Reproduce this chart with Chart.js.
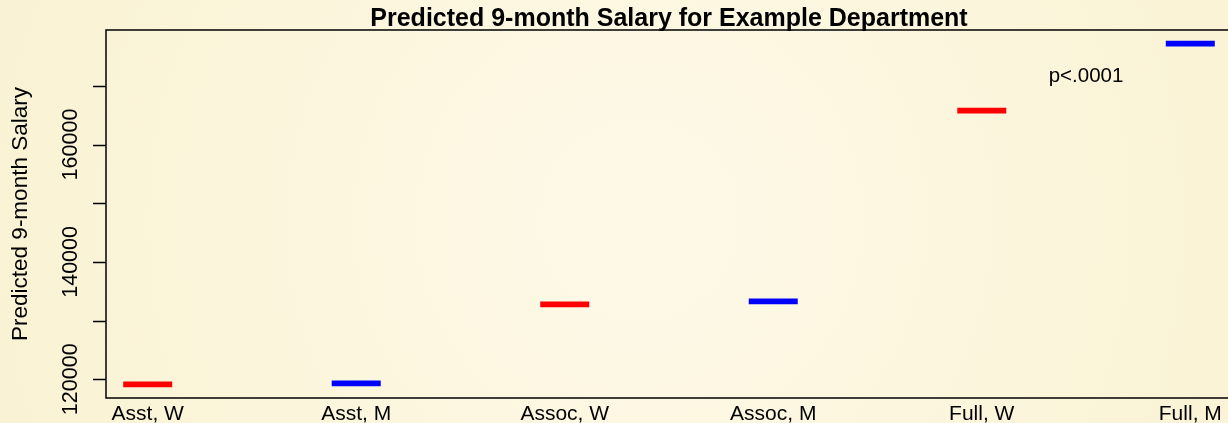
<!DOCTYPE html>
<html>
<head>
<meta charset="utf-8">
<script src="https://cdn.jsdelivr.net/npm/chart.js@4/dist/chart.umd.min.js"></script>
<style>
html,body{margin:0;padding:0;overflow:hidden;width:1228px;height:423px;}
body{background:#FBF5DC;}
#c{display:block;}
</style>
</head>
<body>
<canvas id="c" width="1240" height="423"></canvas>
<script>
// ---- data ----
const categories = ["Asst, W", "Asst, M", "Assoc, W", "Assoc, M", "Full, W", "Full, M"];
const salaries = [119130, 119300, 132750, 133260, 165790, 177190];
const groupColors = ["#FF0000", "#0000FF", "#FF0000", "#0000FF", "#FF0000", "#0000FF"];
const yTicks = [120000, 130000, 140000, 150000, 160000, 170000];
const yTickLabels = ["120000", "", "140000", "", "160000", ""];
const titleText = "Predicted 9-month Salary for Example Department";
const yTitleText = "Predicted 9-month Salary";
const noteText = "p<.0001";
const notePos = {x: 4.5, y: 171700};

// R-style 4% axis padding
const yLo = Math.min(...salaries), yHi = Math.max(...salaries);
const yPad = (yHi - yLo) * 0.04;
const xPad = (categories.length - 1) * 0.04;

const FONT = '"Liberation Sans", Arial, sans-serif';

const bgPlugin = {
  id: 'bg',
  beforeDraw(chart) {
    const ctx = chart.ctx, w = chart.width, h = chart.height;
    ctx.save();
    ctx.fillStyle = '#FBF5DC';
    ctx.fillRect(0, 0, w, h);
    const g = ctx.createRadialGradient(640, 220, 50, 640, 220, 700);
    g.addColorStop(0, 'rgba(255,251,236,0.7)');
    g.addColorStop(1, 'rgba(248,240,205,0.6)');
    ctx.fillStyle = g;
    ctx.fillRect(0, 0, w, h);
    ctx.restore();
  }
};

const axesPlugin = {
  id: 'rAxes',
  afterDraw(chart) {
    const ctx = chart.ctx, a = chart.chartArea;
    const xs = chart.scales.x, ys = chart.scales.y;
    ctx.save();
    ctx.strokeStyle = '#000';
    ctx.lineWidth = 1.5;
    ctx.strokeRect(a.left, a.top, a.right - a.left, a.bottom - a.top);
    // y ticks
    ctx.fillStyle = '#000';
    ctx.font = '21.5px ' + FONT;
    ctx.textAlign = 'center';
    ctx.textBaseline = 'alphabetic';
    yTicks.forEach((v, i) => {
      const py = Math.round(ys.getPixelForValue(v)) + 0.5;
      ctx.beginPath();
      ctx.moveTo(a.left - 13, py);
      ctx.lineTo(a.left, py);
      ctx.stroke();
      if (yTickLabels[i]) {
        ctx.save();
        ctx.translate(a.left - 29, ys.getPixelForValue(v));
        ctx.rotate(-Math.PI / 2);
        ctx.fillText(yTickLabels[i], 0, 0);
        ctx.restore();
      }
    });
    // x labels
    ctx.font = '21px ' + FONT;
    categories.forEach((c, i) => {
      ctx.fillText(c, xs.getPixelForValue(i), a.bottom + 22);
    });
    // y title
    ctx.save();
    ctx.font = '22.5px ' + FONT;
    ctx.translate(27, (a.top + a.bottom) / 2);
    ctx.rotate(-Math.PI / 2);
    ctx.fillText(yTitleText, 0, 0);
    ctx.restore();
    // title
    ctx.font = 'bold 25px ' + FONT;
    ctx.fillText(titleText, (a.left + a.right) / 2, a.top - 4);
    // note
    ctx.font = '20.5px ' + FONT;
    ctx.textBaseline = 'middle';
    ctx.fillText(noteText, xs.getPixelForValue(notePos.x), ys.getPixelForValue(notePos.y));
    ctx.restore();
  }
};

new Chart(document.getElementById('c'), {
  type: 'scatter',
  data: {
    datasets: [{
      data: salaries.map((v, i) => ({x: i, y: v})),
      pointStyle: 'line',
      pointRadius: 24.5,
      pointHoverRadius: 24.5,
      pointBorderWidth: 5.7,
      pointBorderColor: groupColors,
      pointBackgroundColor: groupColors,
      showLine: false
    }]
  },
  plugins: [bgPlugin, axesPlugin],
  options: {
    responsive: false,
    devicePixelRatio: 1,
    animation: false,
    events: [],
    layout: {autoPadding: false, padding: {left: 106, top: 30, right: 8, bottom: 25}},
    plugins: {legend: {display: false}, tooltip: {enabled: false}, title: {display: false}},
    scales: {
      x: {type: 'linear', display: false, min: -xPad, max: categories.length - 1 + xPad},
      y: {type: 'linear', display: false, min: yLo - yPad, max: yHi + yPad}
    }
  }
});
</script>
</body>
</html>
